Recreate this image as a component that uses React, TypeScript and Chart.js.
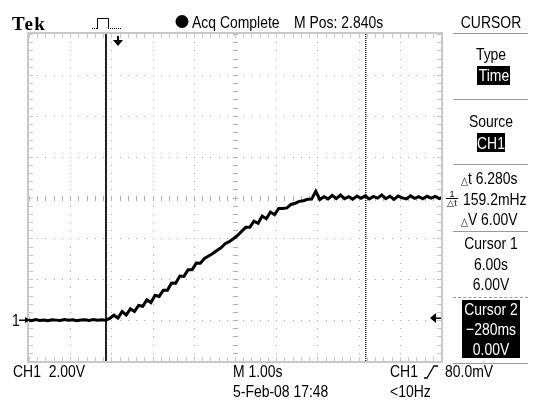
import React, { useEffect, useRef } from 'react';
import { Chart, registerables } from 'chart.js';

Chart.register(...registerables);

const TIME_S = [
  -2.2, -2.1, -2.0, -1.9, -1.8, -1.7, -1.6, -1.5, -1.4, -1.3, -1.2, -1.1, -1.0, -0.9, -0.8, -0.7, -0.6, -0.5, -0.4, -0.3,
  -0.2, -0.1, 0.0, 0.1, 0.2, 0.3, 0.4, 0.5, 0.6, 0.7, 0.8, 0.9, 1.0, 1.1, 1.2, 1.3, 1.4, 1.5, 1.6, 1.7, 1.8, 1.9,
  2.0, 2.1, 2.2, 2.3, 2.4, 2.5, 2.6, 2.7, 2.8, 2.9, 3.0, 3.1, 3.2, 3.3, 3.4, 3.5, 3.6, 3.7, 3.8, 3.9,
  4.0, 4.1, 4.2, 4.3, 4.4, 4.5, 4.6, 4.7, 4.8, 4.9, 5.0,
  5.1, 5.2, 5.3, 5.4, 5.5, 5.6, 5.7, 5.8, 5.9, 6.0, 6.1, 6.2, 6.3, 6.4, 6.5, 6.6, 6.7, 6.8, 6.9,
  7.0, 7.1, 7.2, 7.3, 7.4, 7.5, 7.6, 7.7, 7.8, 7.9,
];
const CH1_V = [
  0.02, -0.03, 0.03, -0.02, 0.01, -0.03, 0.02, 0.0, -0.02, 0.03, -0.01, 0.02, -0.03, 0.01, 0.02, -0.02, 0.03, -0.01, 0.02, 0.0,
  0.08, 0.24, 0.1, 0.42, 0.25, 0.55, 0.42, 0.72, 0.68, 0.99, 0.86, 1.22, 1.16, 1.46, 1.46, 1.82, 1.81, 2.16, 2.14, 2.46, 2.46, 2.79,
  2.78, 3.02, 3.14, 3.26, 3.41, 3.54, 3.74, 3.84, 3.98, 4.14, 4.34, 4.54, 4.54, 4.84, 4.74, 5.09, 4.96, 5.29, 5.16, 5.46,
  5.46, 5.49, 5.66, 5.72, 5.81, 5.84, 5.91, 5.92, 6.3, 5.9, 6.04,
  5.93, 6.1, 5.95, 6.12, 5.94, 6.04, 5.92, 6.07, 5.96, 6.08, 5.93, 6.05, 5.97, 6.12, 5.94, 6.06, 5.91, 6.07, 5.98,
  5.93, 6.08, 5.96, 6.04, 5.94, 6.06, 5.97, 6.05, 5.95, 6.03,
];

// 1.00 s/div over 10 divisions, M Pos 2.840 s at centre
const X_MIN = -2.16;
const X_MAX = 7.84;
// 2.00 V/div over 8 divisions, ground one division above the bottom
const Y_MIN = -2;
const Y_MAX = 14;
const CURSOR1_T = 6.0;
const CURSOR2_T = -0.28;
const TRIGGER_T = 0;
const TRIGGER_LEVEL_V = 0.08;
const GROUND_V = 0;

const FONT = '"Liberation Sans", Arial, sans-serif';
const SQUEEZE = 0.82;

const scopePlugin = {
  id: 'scope',
  beforeDatasetsDraw(chart: any) {
    const { ctx, chartArea } = chart;
    const { left, top, right, bottom } = chartArea;
    const dx = (right - left) / 10;
    const dy = (bottom - top) / 8;
    const xs = chart.scales.x;
    ctx.save();
    // dotted major grid
    ctx.fillStyle = '#a6a6a6';
    for (let i = 1; i < 10; i++) {
      if (i === 5) continue;
      const x = Math.round(left + i * dx);
      for (let j = 0; j <= 40; j++) ctx.fillRect(x, Math.round(top + (j * dy) / 5), 1, 1);
    }
    for (let j = 1; j < 8; j++) {
      if (j === 4) continue;
      const y = Math.round(top + j * dy);
      for (let i = 0; i <= 50; i++) ctx.fillRect(Math.round(left + (i * dx) / 5), y, 1, 1);
    }
    // centre cross with minor ticks
    ctx.fillStyle = '#b0b0b0';
    const xc = Math.round(left + 5 * dx);
    const yc = Math.round(top + 4 * dy);
    for (let j = 0; j <= 40; j++) ctx.fillRect(xc - 2, Math.round(top + (j * dy) / 5), 5, 1);
    for (let i = 0; i <= 50; i++) ctx.fillRect(Math.round(left + (i * dx) / 5), yc - 2, 1, 5);
    // border with ticks
    ctx.fillStyle = '#c8c8c8';
    for (let i = 0; i <= 50; i++) {
      const x = Math.round(left + (i * dx) / 5);
      ctx.fillRect(x, top, 1, 4);
      ctx.fillRect(x, bottom - 4, 1, 4);
    }
    for (let j = 0; j <= 40; j++) {
      const y = Math.round(top + (j * dy) / 5);
      ctx.fillRect(left, y, 4, 1);
      ctx.fillRect(right - 4, y, 4, 1);
    }
    ctx.strokeStyle = '#c8c8c8';
    ctx.lineWidth = 2;
    ctx.strokeRect(left - 1, top - 1, right - left + 2, bottom - top + 2);

    // cursor 2 (solid) and cursor 1 (dotted)
    const c2 = Math.round(xs.getPixelForValue(CURSOR2_T));
    ctx.fillStyle = '#222';
    ctx.fillRect(c2 - 1, top, 2, bottom - top);
    const c1 = Math.round(xs.getPixelForValue(CURSOR1_T));
    for (let y = top; y < bottom; y += 2) ctx.fillRect(c1, y, 1.5, 1);
    ctx.restore();
  },
  afterDatasetsDraw(chart: any) {
    const { ctx, chartArea } = chart;
    const { left, top, right } = chartArea;
    const xs = chart.scales.x;
    const ys = chart.scales.y;
    ctx.save();
    ctx.fillStyle = '#000';
    ctx.strokeStyle = '#000';
    // trigger position marker (top)
    const tx = Math.round(xs.getPixelForValue(TRIGGER_T));
    ctx.fillRect(tx - 1, top + 2, 2, 5);
    ctx.beginPath();
    ctx.moveTo(tx - 5, top + 6);
    ctx.lineTo(tx + 5, top + 6);
    ctx.lineTo(tx, top + 12);
    ctx.closePath();
    ctx.fill();
    // ground marker (left)
    const gy = Math.round(ys.getPixelForValue(GROUND_V));
    ctx.fillRect(left - 10, gy - 0.5, 8, 1.5);
    ctx.beginPath();
    ctx.moveTo(left - 4, gy - 3);
    ctx.lineTo(left + 1, gy);
    ctx.lineTo(left - 4, gy + 3);
    ctx.closePath();
    ctx.fill();
    // trigger level marker (right)
    const ly = Math.round(ys.getPixelForValue(TRIGGER_LEVEL_V));
    ctx.fillRect(right - 8, ly - 0.5, 8, 1.5);
    ctx.beginPath();
    ctx.moveTo(right - 11, ly);
    ctx.lineTo(right - 5, ly - 5);
    ctx.lineTo(right - 5, ly + 5);
    ctx.closePath();
    ctx.fill();

    // header: pulse icon
    ctx.lineWidth = 1;
    ctx.beginPath();
    ctx.moveTo(97.5, 29);
    ctx.lineTo(97.5, 18.5);
    ctx.lineTo(108.5, 18.5);
    ctx.lineTo(108.5, 29);
    ctx.stroke();
    for (let x = 92; x <= 96; x += 2) ctx.fillRect(x, 28, 1, 1);
    for (let x = 110; x <= 120; x += 2) ctx.fillRect(x, 28, 1, 1);
    // acquisition status dot
    ctx.beginPath();
    ctx.arc(182, 21.5, 6.5, 0, Math.PI * 2);
    ctx.fill();
    ctx.restore();
  },
};

function Txt(props: { x: number; y: number; children: React.ReactNode; center?: boolean; color?: string; size?: number; font?: string; bold?: boolean; squeeze?: number; spacing?: number }) {
  const size = props.size ?? 17;
  const sq = props.squeeze ?? SQUEEZE;
  return (
    <div
      style={{
        position: 'absolute',
        left: props.x,
        top: props.y - Math.round(size * 0.13),
        fontSize: size,
        lineHeight: size + 'px',
        whiteSpace: 'nowrap',
        transformOrigin: props.center ? '50% 50%' : '0 50%',
        transform: props.center ? `translateX(-50%) scaleX(${sq})` : `scaleX(${sq})`,
        fontFamily: props.font ?? FONT,
        fontWeight: props.bold ? 700 : 400,
        letterSpacing: props.spacing ?? 0,
        color: props.color ?? '#000',
      }}
    >
      {props.children}
    </div>
  );
}

function Tri() {
  return <span style={{ fontSize: 11, fontFamily: '"DejaVu Sans", sans-serif' }}>△</span>;
}

function Rule(props: { y: number; dashed?: boolean }) {
  return (
    <div
      style={{
        position: 'absolute',
        left: 453,
        top: props.y,
        width: 75,
        height: 0,
        borderTop: props.dashed ? '1px dashed #999' : '1px solid #999',
      }}
    />
  );
}

function Box(props: { x: number; y: number; w: number; h: number }) {
  return <div style={{ position: 'absolute', left: props.x, top: props.y, width: props.w, height: props.h, background: '#000' }} />;
}

export default function App() {
  const ref = useRef<HTMLCanvasElement | null>(null);
  useEffect(() => {
    document.body.style.margin = '0';
    if (!ref.current) return;
    const chart = new Chart(ref.current, {
      type: 'line',
      data: {
        datasets: [
          {
            data: TIME_S.map((t, i) => ({ x: t, y: CH1_V[i] })),
            borderColor: '#000',
            borderWidth: 3,
            pointRadius: 0,
            tension: 0,
          },
        ],
      },
      options: {
        responsive: false,
        animation: false,
        layout: { padding: { left: 29, top: 34, right: 99, bottom: 40 } },
        scales: {
          x: { type: 'linear', min: X_MIN, max: X_MAX, display: false },
          y: { type: 'linear', min: Y_MIN, max: Y_MAX, display: false },
        },
        plugins: { legend: { display: false }, tooltip: { enabled: false } },
      },
      plugins: [scopePlugin],
    });
    return () => chart.destroy();
  }, []);

  return (
    <div style={{ position: 'relative', width: 540, height: 401, background: '#fff', overflow: 'hidden' }}>
      <canvas ref={ref} width={540} height={401} style={{ display: 'block', position: 'absolute', left: 0, top: 0 }} />
      {/* header */}
      <Txt x={12} y={16} size={19} bold squeeze={1} spacing={1.5} font='"Liberation Serif", serif'>Tek</Txt>
      <Txt x={192} y={16}>Acq Complete</Txt>
      <Txt x={294} y={16}>M Pos: 2.840s</Txt>
      <Txt x={491} y={16} center>CURSOR</Txt>
      {/* ground label */}
      <Txt x={12} y={314}>1</Txt>
      {/* right panel */}
      <Rule y={33} />
      <Txt x={491} y={48} center>Type</Txt>
      <Box x={477} y={66} w={33} h={19} />
      <Txt x={493.5} y={69} center color="#fff">Time</Txt>
      <Rule y={99} />
      <Txt x={491} y={115} center>Source</Txt>
      <Box x={477} y={133} w={28} h={19} />
      <Txt x={491} y={137} center color="#fff">CH1</Txt>
      <Rule y={164} />
      <Txt x={461} y={172}><Tri />t 6.280s</Txt>
      <div style={{ position: 'absolute', left: 446, top: 190, width: 12, fontFamily: FONT, fontSize: 9, lineHeight: '8px', textAlign: 'center' }}>
        <div>1</div>
        <div style={{ borderTop: '1px solid #000' }}>△t</div>
      </div>
      <Txt x={463} y={193}>159.2mHz</Txt>
      <Txt x={461} y={213}><Tri />V 6.00V</Txt>
      <Rule y={231} />
      <Txt x={491} y={237} center>Cursor 1</Txt>
      <Txt x={491} y={258} center>6.00s</Txt>
      <Txt x={491} y={278} center>6.00V</Txt>
      <Rule y={297} dashed />
      <Box x={462} y={300} w={58} h={58} />
      <Txt x={491} y={303} center color="#fff">Cursor 2</Txt>
      <Txt x={491} y={323} center color="#fff">−280ms</Txt>
      <Txt x={491} y={343} center color="#fff">0.00V</Txt>
      <Rule y={363} />
      {/* footer */}
      <Txt x={13} y={365}>CH1&nbsp;&nbsp;2.00V</Txt>
      <Txt x={233} y={365}>M 1.00s</Txt>
      <Txt x={390} y={365}>CH1</Txt>
      <svg style={{ position: 'absolute', left: 423, top: 365 }} width={16} height={14}>
        <polyline points="1,13 4,13 11,1 15,1" fill="none" stroke="#000" strokeWidth={1.3} />
      </svg>
      <Txt x={445} y={365}>80.0mV</Txt>
      <Txt x={233} y={385}>5-Feb-08 17:48</Txt>
      <Txt x={390} y={385}>&lt;10Hz</Txt>
    </div>
  );
}
